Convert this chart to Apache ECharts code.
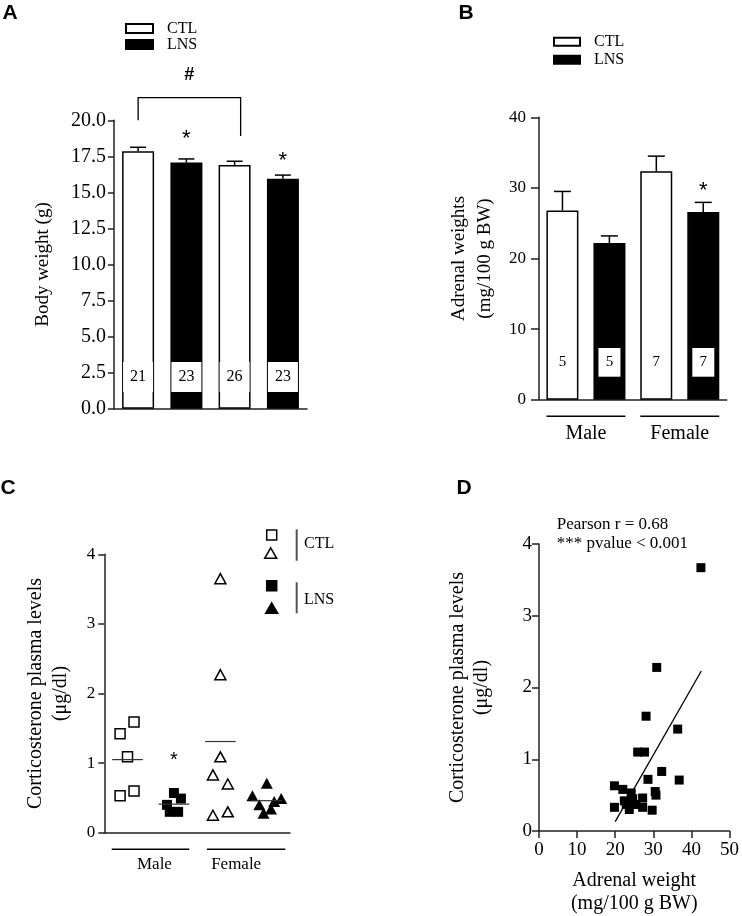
<!DOCTYPE html>
<html><head><meta charset="utf-8">
<script src="https://cdn.jsdelivr.net/npm/echarts@6/dist/echarts.min.js"></script>
<style>html,body{margin:0;padding:0;background:#fff}#c{width:742px;height:916px}</style>
</head><body><div id="c"></div><script>
// ---------- Panel A: body weight ----------
const groups = ['Male', 'Female'];
const bwCTL = [17.85, 16.90];
const bwCTLUpper = [18.13, 17.16];
const bwLNS = [17.07, 15.94];
const bwLNSUpper = [17.32, 16.20];
const bwN_CTL = [21, 26];
const bwN_LNS = [23, 23];
const bwStarLNS = [18.97, 17.45];
const bwBracket = [20.0, 21.57, 18.91];   // left foot, top, right foot
const bwHash = 23.17;

// ---------- Panel B: adrenal weights ----------
const adCTL = [26.8, 32.35];
const adCTLUpper = [29.5, 34.5];
const adLNS = [22.2, 26.6];
const adLNSUpper = [23.2, 27.95];
const adN_CTL = [5, 7];
const adN_LNS = [5, 7];
const adStarLNS = [null, 30.2];

// ---------- Panel C: corticosterone ----------
const cortMaleCTL = [1.42, 1.59, 1.09, 0.53, 0.60];
const jitMaleCTL = [-0.16, 0.14, 0.0, -0.16, 0.14];
const cortMaleLNS = [0.57, 0.49, 0.40, 0.30, 0.30];
const jitMaleLNS = [0.0, 0.15, -0.15, -0.09, 0.09];
const cortFemaleCTL = [3.65, 2.27, 1.09, 0.83, 0.70, 0.25, 0.30];
const jitFemaleCTL = [0.0, 0.0, 0.0, -0.16, 0.16, -0.16, 0.16];
const cortFemaleLNS = [0.71, 0.53, 0.49, 0.45, 0.40, 0.34, 0.28];
const jitFemaleLNS = [0.0, -0.31, 0.31, 0.16, -0.16, 0.09, -0.07];
const cortMeans = [1.05, 0.41, 1.31, 0.46];
const cortStar = [2, 1.09];

// ---------- Panel D: correlation ----------
const adrenalX = [42.5, 30.9, 28.1, 36.4, 25.9, 27.7, 32.2, 28.6, 36.8, 30.5, 30.7, 19.8,
                  22.0, 24.2, 24.6, 22.4, 27.2, 23.7, 27.2, 29.7, 19.8, 22.9, 25.5, 24.0];
const cortY    = [3.67, 2.28, 1.60, 1.42, 1.10, 1.10, 0.83, 0.72, 0.71, 0.55, 0.50, 0.63,
                  0.58, 0.53, 0.45, 0.42, 0.46, 0.30, 0.33, 0.29, 0.33, 0.37, 0.37, 0.40];
const fitLine = [[20.0, 0.13], [42.6, 2.23]];

const SERIF = '"Liberation Serif", "Times New Roman", serif';
const SANS = '"Liberation Sans", Arial, sans-serif';
const AX = '#222';

function errBar(sign, cap) {
  return function (params, api) {
    const i = api.value(0);
    const base = api.coord([i, api.value(1)]);
    const top = api.coord([i, api.value(2)]);
    const band = api.size([1, 0])[0];
    const cx = base[0] + sign * band / 4;
    return {type: 'group', children: [
      {type: 'line', shape: {x1: cx, y1: base[1], x2: cx, y2: top[1]}, style: {stroke: '#000', lineWidth: 1.5}},
      {type: 'line', shape: {x1: cx - cap / 2, y1: top[1], x2: cx + cap / 2, y2: top[1]}, style: {stroke: '#000', lineWidth: 1.5}}
    ]};
  };
}
function textMark(sign, text, size, font, dy) {
  return function (params, api) {
    const p = api.coord([api.value(0), api.value(1)]);
    const band = api.size([1, 0])[0];
    return {type: 'text', x: p[0] + sign * band / 4, y: p[1] + (dy || 0),
      style: {text: text, fontSize: size, fontFamily: font, fill: '#000', textAlign: 'center', textVerticalAlign: 'middle'}};
  };
}
function catAxis(grid, showLabel) {
  return {type: 'category', gridIndex: grid, data: groups,
    axisLine: {lineStyle: {color: AX, width: 1.5}}, axisTick: {show: false},
    axisLabel: {show: showLabel, margin: 24, fontFamily: SERIF, fontSize: 20, color: '#000'}};
}
function valAxis(grid, o) {
  return Object.assign({type: 'value', gridIndex: grid, splitLine: {show: false},
    axisLine: {show: true, lineStyle: {color: AX, width: 1.5}},
    axisTick: {show: true, length: 6, lineStyle: {color: AX, width: 1.5}},
    axisLabel: {fontFamily: SERIF, color: '#000'},
    nameLocation: 'middle', nameRotate: 90,
    nameTextStyle: {fontFamily: SERIF, color: '#000'}}, o);
}
const nLabel = (arr, w, h, fs, dist) => ({show: true, position: 'insideBottom', distance: dist,
  formatter: p => String(arr[p.dataIndex]), width: w, height: h, lineHeight: h, align: 'center',
  backgroundColor: '#fff', fontFamily: SERIF, fontSize: fs, color: '#000'});

const chart = echarts.init(document.getElementById('c'));
const option = {
  animation: false,
  backgroundColor: '#fff',
  legend: [
    {data: ['CTL', 'LNS'], left: 125, top: 20.5, orient: 'vertical', padding: 0, itemWidth: 27, itemHeight: 9, itemGap: 0,
     icon: 'rect', selectedMode: false, textStyle: {fontFamily: SERIF, fontSize: 16, color: '#000', padding: [0, 0, 0, 9]}},
    {data: ['CTL', 'LNS'], left: 553, top: 33.7, orient: 'vertical', padding: 0, itemWidth: 26, itemHeight: 8, itemGap: 2,
     icon: 'rect', selectedMode: false, textStyle: {fontFamily: SERIF, fontSize: 16, color: '#000', padding: [0, 0, 0, 9]}}
  ],
  grid: [
    {left: 114, top: 120.3, width: 193, height: 288.4},
    {left: 539, top: 117.3, width: 187.7, height: 282.4},
    {left: 104.3, top: 554.3, width: 185.7, height: 278.4},
    {left: 539, top: 544, width: 191.7, height: 287.7}
  ],
  xAxis: [
    catAxis(0, false),
    catAxis(1, true),
    {type: 'value', gridIndex: 2, min: 0.5, max: 4.5, splitLine: {show: false},
     axisLine: {lineStyle: {color: AX, width: 1.5}}, axisTick: {show: false}, axisLabel: {show: false}},
    {type: 'value', gridIndex: 3, min: 0, max: 50, interval: 10, splitLine: {show: false},
     axisLine: {lineStyle: {color: AX, width: 1.5}}, axisTick: {length: 7, lineStyle: {color: AX, width: 1.5}},
     axisLabel: {fontFamily: SERIF, fontSize: 19, color: '#000', margin: 10},
     name: 'Adrenal weight\n(mg/100 g BW)', nameLocation: 'middle', nameGap: 38,
     nameTextStyle: {fontFamily: SERIF, fontSize: 20, color: '#000', lineHeight: 23}}
  ],
  yAxis: [
    valAxis(0, {min: 0, max: 20, interval: 2.5, name: 'Body weight (g)', nameGap: 61,
      axisLabel: {fontFamily: SERIF, fontSize: 20, color: '#000', margin: 8, formatter: v => v.toFixed(1)},
      nameTextStyle: {fontFamily: SERIF, fontSize: 19, color: '#000'}}),
    valAxis(1, {min: 0, max: 40, interval: 10, name: 'Adrenal weights\n(mg/100 g BW)', nameGap: 41,
      axisTick: {show: true, length: 8, lineStyle: {color: AX, width: 1.5}},
      axisLabel: {fontFamily: SERIF, fontSize: 17, color: '#000', margin: 13},
      nameTextStyle: {fontFamily: SERIF, fontSize: 19, color: '#000', lineHeight: 26}}),
    valAxis(2, {min: 0, max: 4, interval: 1, name: 'Corticosterone plasma levels\n(μg/dl)', nameGap: 31,
      axisLabel: {fontFamily: SERIF, fontSize: 17, color: '#000', margin: 9},
      nameTextStyle: {fontFamily: SERIF, fontSize: 20, color: '#000', lineHeight: 25}}),
    valAxis(3, {min: 0, max: 4, interval: 1, name: 'Corticosterone plasma levels\n(μg/dl)', nameGap: 45,
      axisTick: {show: true, length: 7, lineStyle: {color: AX, width: 1.5}},
      axisLabel: {fontFamily: SERIF, fontSize: 19, color: '#000', margin: 7},
      nameTextStyle: {fontFamily: SERIF, fontSize: 20, color: '#000', lineHeight: 24}})
  ],
  series: [
    // Panel A bars
    {type: 'bar', name: 'CTL', xAxisIndex: 0, yAxisIndex: 0, data: bwCTL, barWidth: 32, barGap: '51%',
     itemStyle: {color: '#fff', borderColor: '#000', borderWidth: 1.5}, label: nLabel(bwN_CTL, 30, 30, 16, 16.7)},
    {type: 'bar', name: 'LNS', xAxisIndex: 0, yAxisIndex: 0, data: bwLNS, barWidth: 32, barGap: '51%',
     itemStyle: {color: '#000', borderColor: '#000', borderWidth: 1.5}, label: nLabel(bwN_LNS, 30, 30, 16, 16.7)},
    {type: 'custom', xAxisIndex: 0, yAxisIndex: 0, renderItem: errBar(-1, 16),
     data: groups.map((g, i) => [i, bwCTL[i], bwCTLUpper[i]])},
    {type: 'custom', xAxisIndex: 0, yAxisIndex: 0, renderItem: errBar(1, 16),
     data: groups.map((g, i) => [i, bwLNS[i], bwLNSUpper[i]])},
    {type: 'custom', xAxisIndex: 0, yAxisIndex: 0, renderItem: textMark(1, '*', 22, SANS, 4),
     data: groups.map((g, i) => [i, bwStarLNS[i]])},
    // bracket + hash
    {type: 'custom', xAxisIndex: 0, yAxisIndex: 0, clip: false, data: [[0, 1, bwBracket[0], bwBracket[1], bwBracket[2], bwHash]],
     renderItem: function (params, api) {
       const band = api.size([1, 0])[0];
       const xl = api.coord([api.value(0), 0])[0] - band / 4;
       const xr = api.coord([api.value(1), 0])[0] - band / 4 + 6;
       const yl = api.coord([0, api.value(2)])[1], yt = api.coord([0, api.value(3)])[1], yr = api.coord([0, api.value(4)])[1];
       const yh = api.coord([0, api.value(5)])[1];
       return {type: 'group', children: [
         {type: 'polyline', shape: {points: [[xl, yl], [xl, yt], [xr, yt], [xr, yr]]}, style: {stroke: '#000', lineWidth: 1.3, fill: null}},
         {type: 'text', x: (xl + xr) / 2, y: yh, style: {text: '#', fontSize: 18, fontWeight: 'bold', fontFamily: SANS, fill: '#000', textAlign: 'center', textVerticalAlign: 'middle'}}
       ]};
     }},
    // Panel B bars
    {type: 'bar', name: 'CTL', xAxisIndex: 1, yAxisIndex: 1, data: adCTL, barWidth: 32, barGap: '47%',
     itemStyle: {color: '#fff', borderColor: '#000', borderWidth: 1.5}, label: nLabel(adN_CTL, 22, 28.7, 15, 23)},
    {type: 'bar', name: 'LNS', xAxisIndex: 1, yAxisIndex: 1, data: adLNS, barWidth: 32, barGap: '47%',
     itemStyle: {color: '#000', borderColor: '#000', borderWidth: 1.5}, label: nLabel(adN_LNS, 22, 28.7, 15, 23)},
    {type: 'custom', xAxisIndex: 1, yAxisIndex: 1, renderItem: errBar(-1, 17),
     data: groups.map((g, i) => [i, adCTL[i], adCTLUpper[i]])},
    {type: 'custom', xAxisIndex: 1, yAxisIndex: 1, renderItem: errBar(1, 17),
     data: groups.map((g, i) => [i, adLNS[i], adLNSUpper[i]])},
    {type: 'custom', xAxisIndex: 1, yAxisIndex: 1, renderItem: textMark(1, '*', 22, SANS, 4),
     data: groups.map((g, i) => [i, adStarLNS[i]]).filter(d => d[1] != null)},
    // Panel C
    {type: 'scatter', xAxisIndex: 2, yAxisIndex: 2, symbol: 'rect', symbolSize: 10,
     itemStyle: {color: '#fff', borderColor: '#000', borderWidth: 1.5, opacity: 1},
     data: cortMaleCTL.map((v, i) => [1 + jitMaleCTL[i], v])},
    {type: 'scatter', xAxisIndex: 2, yAxisIndex: 2, symbol: 'rect', symbolSize: 10,
     itemStyle: {color: '#000', opacity: 1},
     data: cortMaleLNS.map((v, i) => [2 + jitMaleLNS[i], v])},
    {type: 'scatter', xAxisIndex: 2, yAxisIndex: 2, symbol: 'triangle', symbolSize: [11, 10],
     itemStyle: {color: '#fff', borderColor: '#000', borderWidth: 1.5, opacity: 1},
     data: cortFemaleCTL.map((v, i) => [3 + jitFemaleCTL[i], v])},
    {type: 'scatter', xAxisIndex: 2, yAxisIndex: 2, symbol: 'triangle', symbolSize: [12, 11],
     itemStyle: {color: '#000', opacity: 1},
     data: cortFemaleLNS.map((v, i) => [4 + jitFemaleLNS[i], v])},
    {type: 'custom', xAxisIndex: 2, yAxisIndex: 2, z: 5, data: cortMeans.map((m, i) => [i + 1, m]),
     renderItem: function (params, api) {
       const a = api.coord([api.value(0) - 0.33, api.value(1)]);
       const b = api.coord([api.value(0) + 0.33, api.value(1)]);
       return {type: 'line', shape: {x1: a[0], y1: a[1], x2: b[0], y2: b[1]}, style: {stroke: '#333', lineWidth: 1.2}};
     }},
    {type: 'custom', xAxisIndex: 2, yAxisIndex: 2, renderItem: textMark(0, '*', 20, SANS, 4), data: [cortStar]},
    // Panel D
    {type: 'scatter', xAxisIndex: 3, yAxisIndex: 3, symbol: 'rect', symbolSize: 9,
     itemStyle: {color: '#000', opacity: 1}, data: adrenalX.map((x, i) => [x, cortY[i]])},
    {type: 'line', xAxisIndex: 3, yAxisIndex: 3, data: fitLine, showSymbol: false, symbol: 'none',
     lineStyle: {color: '#000', width: 1.3}}
  ]
};
chart.setOption(option);

// decorations computed from the axes
const px = (xi, v) => chart.convertToPixel({xAxisIndex: xi}, v);
const py = (yi, v) => chart.convertToPixel({yAxisIndex: yi}, v);
const g = [];
const letter = (t, x, y) => g.push({type: 'text', x: x, y: y, style: {text: t, fontFamily: SANS, fontWeight: 'bold', fontSize: 21, fill: '#000', textAlign: 'center', textVerticalAlign: 'middle'}});
letter('A', 10, 13); letter('B', 466, 13); letter('C', 8, 488); letter('D', 464, 488);
const hline = (x1, x2, y, w, c) => g.push({type: 'line', shape: {x1: x1, y1: y, x2: x2, y2: y}, style: {stroke: c || '#000', lineWidth: w || 1.5}});
const text = (t, x, y, fs, align) => g.push({type: 'text', x: x, y: y, style: {text: t, fontFamily: SERIF, fontSize: fs, fill: '#000', textAlign: align || 'center', textVerticalAlign: 'middle'}});

// Panel B group underlines
{
  const band = px(1, 1) - px(1, 0);
  const yB = py(1, 0) + 16.5;
  for (let i = 0; i < 2; i++) {
    const c = px(1, i);
    hline(c - band / 4 - 16, c + band / 4 + 16, yB, 1.5);
  }
}
// Panel C group underlines & labels
{
  const yC = py(2, 0) + 16.5;
  hline(px(2, 0.66), px(2, 2.33), yC, 1.5);
  hline(px(2, 2.71), px(2, 4.40), yC, 1.5);
  text('Male', px(2, 1.58), yC + 15, 17);
  text('Female', px(2, 3.34), yC + 15, 17);
}
// Panel C legend
{
  const sq = (cx, cy, filled) => g.push({type: 'rect', shape: {x: cx - 5, y: cy - 5, width: 10, height: 10}, style: {fill: filled ? '#000' : '#fff', stroke: '#000', lineWidth: 1.5}});
  const tri = (cx, cy, filled) => g.push({type: 'polygon', shape: {points: [[cx, cy - 5.5], [cx + 6, cy + 5], [cx - 6, cy + 5]]}, style: {fill: filled ? '#000' : '#fff', stroke: '#000', lineWidth: 1.5}});
  sq(271.7, 535, false); tri(270.7, 553.3, false);
  sq(271.7, 585.7, true); tri(271.7, 608.3, true);
  g.push({type: 'line', shape: {x1: 296.7, y1: 529.3, x2: 296.7, y2: 560.7}, style: {stroke: '#555', lineWidth: 2}});
  g.push({type: 'line', shape: {x1: 296.7, y1: 582.3, x2: 296.7, y2: 613.3}, style: {stroke: '#555', lineWidth: 2}});
  text('CTL', 304, 543.3, 16, 'left');
  text('LNS', 304, 599.3, 16, 'left');
}
// Panel D annotation
text('Pearson r = 0.68', 556.7, 524.3, 17, 'left');
text('*** pvalue < 0.001', 556.7, 543.3, 17, 'left');

chart.setOption({graphic: {elements: g}});
</script></body></html>
